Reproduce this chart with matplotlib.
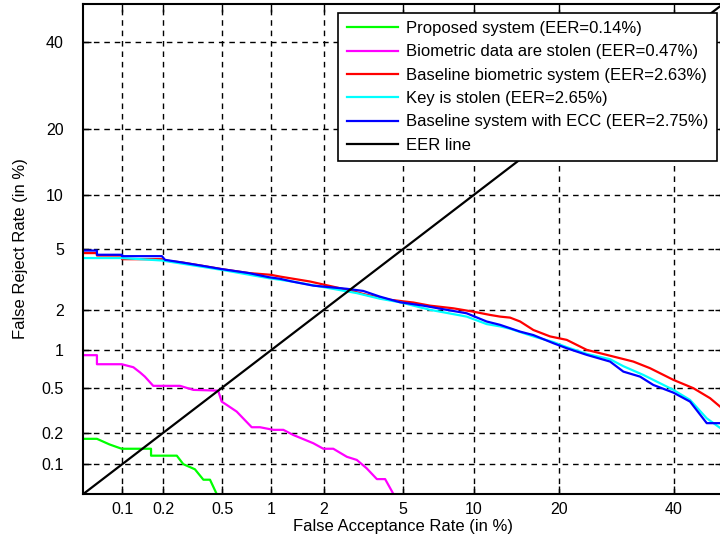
from statistics import NormalDist

import numpy as np
import matplotlib
matplotlib.use("Agg")
from matplotlib import pyplot as plt

plt.rcParams['font.family'] = ['Liberation Sans', 'DejaVu Sans']

# DET curves, FAR / FRR in %
green_far = [0.05, 0.064, 0.08, 0.099, 0.163, 0.163, 0.248, 0.275, 0.33, 0.376, 0.416, 0.46]
green_frr = [0.175, 0.175, 0.155, 0.141, 0.141, 0.121, 0.121, 0.100, 0.089, 0.070, 0.070, 0.05]

magenta_far = [0.05, 0.064, 0.064, 0.099, 0.121, 0.136, 0.147, 0.169, 0.261, 0.322, 0.47, 0.496,
               0.534, 0.618, 0.767, 0.862, 1.036, 1.186, 1.354, 1.754, 1.99, 2.25, 2.65, 2.98,
               3.34, 3.75, 4.11, 4.5]
magenta_frr = [0.918, 0.918, 0.778, 0.778, 0.736, 0.666, 0.617, 0.517, 0.517, 0.478, 0.471, 0.379,
               0.355, 0.31, 0.224, 0.224, 0.212, 0.212, 0.19, 0.159, 0.141, 0.141, 0.118, 0.11,
               0.091, 0.071, 0.071, 0.05]

red_far = [0.05, 0.064, 0.064, 0.0996, 0.0996, 0.195, 0.205, 0.27, 0.368, 0.497, 0.735, 1.0, 1.134,
           1.68, 2.65, 3.34, 4.34, 5.56, 6.59, 8.27, 9.96, 11.54, 12.57, 13.67, 14.83, 16.46,
           18.68, 21.07, 24.17, 27.49, 32.23, 35.36, 39.92, 43.94, 47.34, 49.39]
red_frr = [4.72, 4.72, 4.56, 4.56, 4.33, 4.33, 4.25, 4.13, 3.94, 3.75, 3.54, 3.45, 3.36,
           3.12, 2.75, 2.54, 2.35, 2.25, 2.14, 2.05, 1.94, 1.84, 1.79, 1.76, 1.65, 1.43,
           1.28, 1.205, 1.01, 0.923, 0.817, 0.723, 0.58, 0.494, 0.406, 0.343]

cyan_far = [0.05, 0.0996, 0.195, 0.497, 0.972, 1.331, 2.98, 3.88, 4.83, 6.59, 9.37, 11.2, 12.57,
            13.67, 16.46, 19.14, 21.07, 24.17, 28.06, 30.41, 34.1, 39.92, 43.27, 46.66, 49.39]
cyan_frr = [4.40, 4.40, 4.25, 3.71, 3.28, 3.12, 2.61, 2.39, 2.26, 2.00, 1.79, 1.58, 1.52,
            1.46, 1.28, 1.16, 1.06, 0.94, 0.853, 0.75, 0.637, 0.478, 0.392, 0.27, 0.221]

blue_far = [0.05, 0.064, 0.064, 0.0996, 0.0996, 0.195, 0.205, 0.27, 0.368, 0.497, 0.735, 0.972,
            1.134, 1.331, 1.754, 2.65, 3.21, 3.88, 4.83, 6.16, 7.76, 9.37, 11.2, 12.57, 14.83,
            16.46, 19.14, 21.07, 24.17, 28.06, 30.41, 33.48, 36.0, 39.92, 43.27, 46.66, 49.39]
blue_frr = [4.89, 4.89, 4.61, 4.61, 4.52, 4.52, 4.29, 4.13, 3.94, 3.75, 3.54, 3.33,
            3.25, 3.12, 2.93, 2.79, 2.70, 2.47, 2.26, 2.14, 2.00, 1.89, 1.65, 1.56, 1.39,
            1.31, 1.137, 1.04, 0.923, 0.817, 0.678, 0.617, 0.526, 0.453, 0.379, 0.244, 0.244]

eer_line = [0.05, 50]

labels = ['Proposed system (EER=0.14%)', 'Biometric data are stolen (EER=0.47%)',
          'Baseline biometric system (EER=2.63%)', 'Key is stolen (EER=2.65%)',
          'Baseline system with ECC (EER=2.75%)', 'EER line']
ticks = [0.1, 0.2, 0.5, 1, 2, 5, 10, 20, 40]
tick_labels = ['0.1', '0.2', '0.5', '1', '2', '5', '10', '20', '40']

nd = NormalDist()
_ppf = np.vectorize(nd.inv_cdf, otypes=[float])
_cdf = np.vectorize(nd.cdf, otypes=[float])


def probit(v):
    v = np.clip(np.asarray(v, dtype=float) / 100.0, 1e-9, 1 - 1e-9)
    return _ppf(v)


def inv_probit(z):
    return _cdf(np.asarray(z, dtype=float)) * 100.0


fig = plt.figure(figsize=(7.2, 5.45), dpi=100)
ax = fig.add_axes([0.1157, 0.0936, 0.8885, 0.899])
ax.set_xscale('function', functions=(probit, inv_probit))
ax.set_yscale('function', functions=(probit, inv_probit))

lw = 1.6
ax.plot(green_far, green_frr, color=(0, 1, 0), lw=lw, label=labels[0])
ax.plot(magenta_far, magenta_frr, color=(1, 0, 1), lw=lw, label=labels[1])
ax.plot(red_far, red_frr, color=(1, 0, 0), lw=lw, label=labels[2])
ax.plot(cyan_far, cyan_frr, color=(0, 1, 1), lw=lw, label=labels[3])
ax.plot(blue_far, blue_frr, color=(0, 0, 1), lw=lw, label=labels[4])
ax.plot(eer_line, eer_line, color='black', lw=lw, label=labels[5])

ax.set_xlim(0.05, 50)
ax.set_ylim(0.05, 50)
ax.set_xticks(ticks)
ax.set_xticklabels(tick_labels)
ax.set_yticks(ticks)
ax.set_yticklabels(tick_labels)
ax.minorticks_off()
ax.tick_params(axis='both', direction='in', length=6, width=1, top=True, right=True,
               labelsize=11.5)
ax.tick_params(axis='x', pad=6)
ax.tick_params(axis='y', pad=14)
ax.grid(True, color='black', linestyle=(0, (4, 3.5)), linewidth=1)
for s in ax.spines.values():
    s.set_linewidth(1.5)

ax.set_xlabel('False Acceptance Rate (in %)', fontsize=12, labelpad=1)
ax.set_ylabel('False Reject Rate (in %)', fontsize=12, labelpad=10)

leg = ax.legend(loc='upper right', bbox_to_anchor=(716.7 / 720, 1 - 12.7 / 545),
                bbox_transform=fig.transFigure, borderaxespad=0, fontsize=12,
                handlelength=3.1, handletextpad=0.45, labelspacing=0.5,
                fancybox=False, framealpha=1, edgecolor='black', borderpad=0.5)
leg.get_frame().set_linewidth(1.2)

fig.savefig('out.png', dpi=100)
